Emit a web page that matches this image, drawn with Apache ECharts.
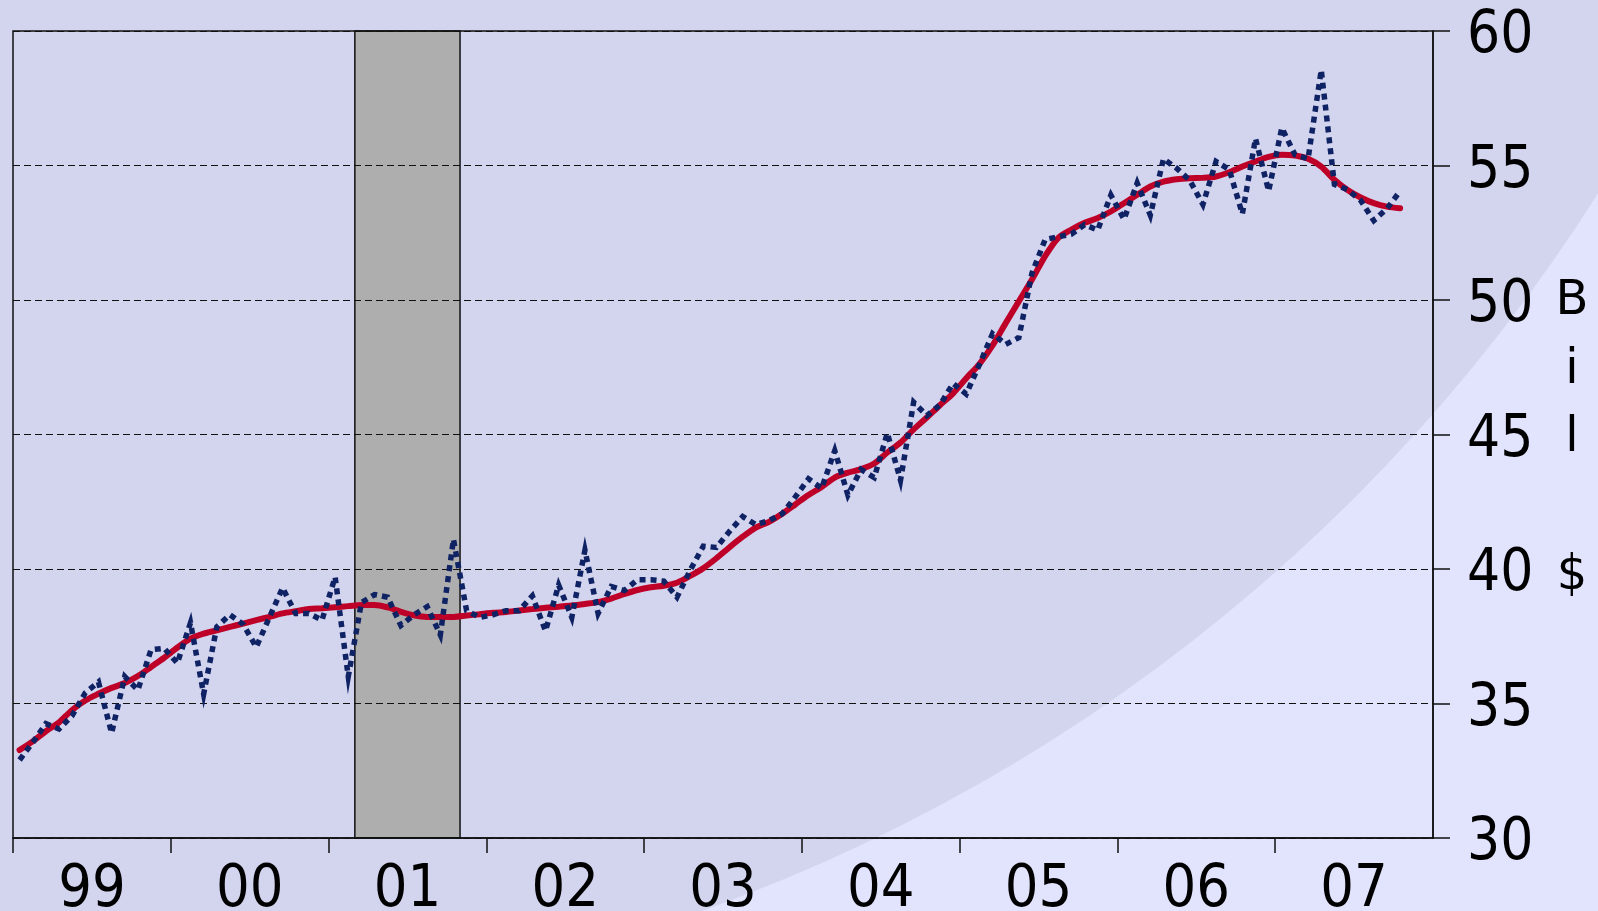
<!DOCTYPE html>
<html>
<head>
<meta charset="utf-8">
<style>
  html, body { margin: 0; padding: 0; background: #E2E3FC; }
  #chart { width: 1598px; height: 911px; }
</style>
<script src="https://cdn.jsdelivr.net/npm/echarts@6/dist/echarts.min.js"></script>
</head>
<body>
<div id="chart"></div>
<script>
// monthly values, Jan 1999 .. Oct 2007
const startYear = 1999
const yearLabels = ['99', '00', '01', '02', '03', '04', '05', '06', '07']
const yMin = 30
const yMax = 60
const recession = [2001 + 2 / 12, 2001 + 10 / 12]
const unitLabel = 'B\ni\nl\n\n$'

const monthlyValues = [
  32.9, 33.55, 34.25, 34.05, 34.55, 35.4, 35.8, 33.9, 36.0, 35.5, 37.0, 37.05,
  36.5, 38.0, 35.35, 37.85, 38.3, 37.95, 37.1, 38.2, 39.3, 38.35, 38.35, 38.1,
  39.7, 36.0, 38.75, 39.05, 38.95, 37.9, 38.3, 38.6, 37.55, 41.1, 38.45, 38.2,
  38.3, 38.45, 38.45, 39.0, 37.7, 39.4, 38.2, 40.7, 38.35, 39.35, 39.2, 39.6,
  39.6, 39.55, 38.95, 39.95, 40.85, 40.8, 41.4, 41.95, 41.65, 41.8, 42.05, 42.68,
  43.35, 43.0, 44.4, 42.75, 43.7, 43.4, 45.05, 43.3, 46.2, 45.7, 46.1, 46.9,
  46.5, 47.6, 48.75, 48.35, 48.6, 51.0, 52.25, 52.35, 52.45, 52.8, 52.6, 53.9,
  53.0, 54.35, 53.15, 55.25, 54.9, 54.45, 53.55, 55.15, 54.85, 53.2, 56.0, 54.05,
  56.4, 55.4, 55.25, 58.55, 54.3, 54.1, 53.7, 52.95, 53.4, 54.05
]

const smoothedValues = [
  33.27, 33.59, 33.97, 34.3, 34.76, 35.11, 35.36, 35.58, 35.76, 36.02, 36.36, 36.7,
  37.08, 37.41, 37.6, 37.72, 37.85, 37.97, 38.1, 38.22, 38.35, 38.43, 38.51, 38.54,
  38.58, 38.62, 38.66, 38.66, 38.57, 38.41, 38.28, 38.22, 38.22, 38.22, 38.27, 38.32,
  38.37, 38.4, 38.46, 38.51, 38.56, 38.6, 38.64, 38.7, 38.77, 38.9, 39.07, 39.22,
  39.32, 39.38, 39.49, 39.74, 40.03, 40.4, 40.81, 41.2, 41.54, 41.75, 42.05, 42.4,
  42.75, 43.05, 43.4, 43.58, 43.71, 43.92, 44.33, 44.7, 45.19, 45.63, 46.09, 46.53,
  47.09, 47.62, 48.31, 49.14, 49.95, 50.76, 51.63, 52.31, 52.62, 52.87, 53.05, 53.29,
  53.6, 53.91, 54.22, 54.4, 54.49, 54.53, 54.54, 54.59, 54.75, 54.96, 55.15, 55.32,
  55.4, 55.37, 55.25, 54.96, 54.47, 54.09, 53.81, 53.6, 53.47, 53.41
]

const digitFont = '"DejaVu Sans Condensed", "Liberation Sans Narrow", "DejaVu Sans", sans-serif'

function toPoints(values) {
  return values.map((v, i) => [startYear + (i + 0.5) / 12, v])
}

const chart = echarts.init(document.getElementById('chart'))

const option = {
  backgroundColor: '#E2E3FC',
  animation: false,
  graphic: [
    {
      // big pale disc behind the plot
      type: 'circle',
      z: -100,
      silent: true,
      shape: { cx: 108, cy: -749, r: 1763 },
      style: { fill: '#D3D4EE' }
    },
    {
      type: 'text',
      silent: true,
      x: 1572,
      y: 439,
      style: {
        text: unitLabel,
        fill: '#000',
        fontSize: 48,
        fontFamily: '"DejaVu Sans", sans-serif',
        lineHeight: 68.6,
        align: 'center',
        verticalAlign: 'middle'
      }
    }
  ],
  grid: {
    left: 13,
    right: 165,
    top: 31,
    bottom: 73,
    outerBoundsMode: 'none',
    containLabel: false,
    show: true,
    borderColor: '#111',
    borderWidth: 1.5,
    backgroundColor: 'transparent'
  },
  xAxis: {
    type: 'value',
    min: startYear,
    max: startYear + yearLabels.length,
    splitLine: { show: false },
    axisLine: { show: true, lineStyle: { color: '#111', width: 1.5 } },
    axisTick: {
      show: true,
      length: 15,
      lineStyle: { color: '#111', width: 1.5 },
      customValues: yearLabels.map((_, i) => startYear + i)
    },
    axisLabel: {
      customValues: yearLabels.map((_, i) => startYear + i + 0.5),
      formatter: v => yearLabels[Math.floor(v) - startYear] || '',
      color: '#000',
      fontFamily: digitFont,
      fontSize: 59,
      margin: 23
    }
  },
  yAxis: {
    type: 'value',
    position: 'right',
    min: yMin,
    max: yMax,
    interval: 5,
    axisLine: { show: true, lineStyle: { color: '#111', width: 1.5 } },
    axisTick: { show: true, length: 17, lineStyle: { color: '#111', width: 1.5 } },
    splitLine: { show: true, lineStyle: { color: '#111', width: 1, type: [7, 4] } },
    axisLabel: {
      color: '#000',
      fontFamily: digitFont,
      fontSize: 58,
      margin: 34,
      verticalAlign: 'top',
      lineHeight: 12
    }
  },
  series: [
    {
      // recession band
      type: 'custom',
      z: -1,
      silent: true,
      data: [recession],
      encode: { x: [0, 1] },
      renderItem(params, api) {
        const p0 = api.coord([api.value(0), yMax])
        const p1 = api.coord([api.value(1), yMin])
        return {
          type: 'rect',
          shape: { x: p0[0], y: p0[1], width: p1[0] - p0[0], height: p1[1] - p0[1] },
          style: { fill: '#AEAEAE', stroke: '#111', lineWidth: 1.5 }
        }
      }
    },
    {
      type: 'line',
      name: 'smoothed',
      data: toPoints(smoothedValues),
      smooth: 0.3,
      symbol: 'none',
      z: 3,
      lineStyle: { color: '#BE0028', width: 6, cap: 'round' }
    },
    {
      type: 'line',
      name: 'monthly',
      data: toPoints(monthlyValues),
      symbol: 'none',
      z: 4,
      lineStyle: {
        color: '#0F2364',
        width: 5.5,
        type: [6, 5],
        cap: 'butt',
        join: 'miter',
        miterLimit: 10
      }
    }
  ]
}

chart.setOption(option)
</script>
</body>
</html>
